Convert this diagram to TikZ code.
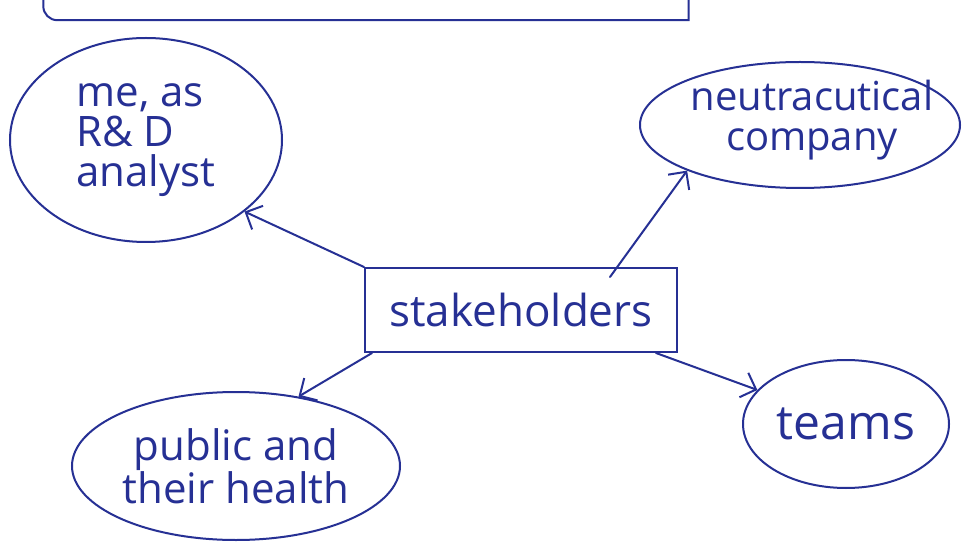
\documentclass[tikz,border=0pt]{standalone}
\usepackage{fontspec}
\setmainfont{Open Sans}
\usetikzlibrary{shapes.geometric,arrows.meta}
\definecolor{ink}{RGB}{38,48,148}
\begin{document}
\begin{tikzpicture}[x=1pt,y=-1pt,
  pen/.style={draw=ink,line width=2pt},
  bubble/.style={pen,ellipse,inner sep=0pt,text=ink,align=center,font=\fontsize{42}{40}\selectfont},
  words/.style={inner sep=0pt,text=ink,align=center,font=\fontsize{40}{40}\selectfont},
  frame/.style={pen,rectangle,inner sep=0pt,text=ink,font=\fontsize{44}{44}\selectfont},
  link/.style={pen,line cap=round,-{Straight Barb[length=13pt,width=26pt,line width=2pt]}}]
\useasboundingbox[fill=white] (0,0) rectangle (963,545);
\clip (0,0) rectangle (963,545);

% heading box, running off the top edge
\node[minimum width=645pt,minimum height=90pt] (head) at (366,-25) {};
\draw[pen] (head.north west) [rounded corners=14pt] -- (head.south west)
  [sharp corners] -- (head.south east) -- (head.north east);

% central box
\node[frame,minimum width=312pt,minimum height=84pt] (stake) at (521,310) {stakeholders};

% surrounding groups
\node[bubble,minimum width=272pt,minimum height=204pt,align=left] (me) at (146,140) {me, as\\R\& D\\analyst};
\node[bubble,minimum width=320pt,minimum height=126pt] (neutra) at (800,125) {};
\node[words] (neutratext) at (812,120) {neutracutical\\company};
\node[bubble,minimum width=328pt,minimum height=148pt] (public) at (236,466) {public and\\their health};
\node[bubble,minimum width=206pt,minimum height=128pt,font=\fontsize{48}{48}\selectfont] (teams) at (846,424) {teams};

% connectors from the central box
\draw[link] (stake.north west) -- (me.-36);
\draw[link] ([xshift=89pt,yshift=-10pt]stake.north) -- (neutra.-158);
\draw[link] ([xshift=8pt]stake.south west) -- (public.48);
\draw[link] ([xshift=-22pt]stake.south east) -- (teams.159);
\end{tikzpicture}
\end{document}
